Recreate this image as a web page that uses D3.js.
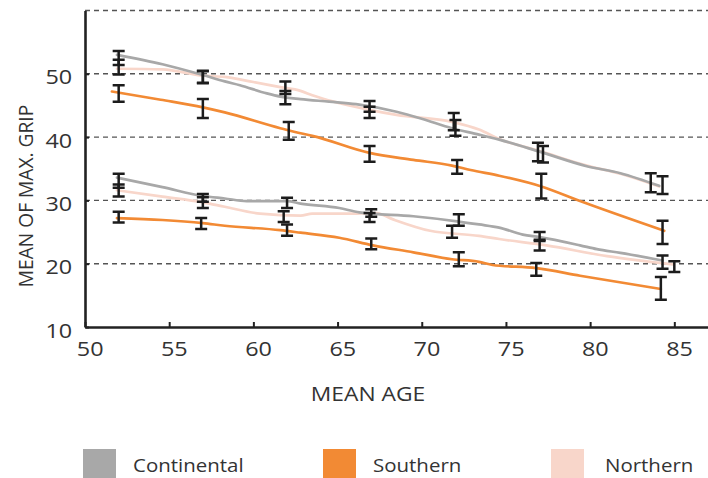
<!DOCTYPE html>
<html>
<head>
<meta charset="utf-8">
<script src="https://cdn.jsdelivr.net/npm/d3@7"></script>
<style>
  html, body { margin: 0; padding: 0; background: #fff; }
  svg { display: block; }
  text { font-family: "Open Sans", "Noto Sans", sans-serif; fill: #333; }
</style>
</head>
<body>
<svg id="chart" width="708" height="478"></svg>
<script>
// ---- data ----
const xTicks = [50, 55, 60, 65, 70, 75, 80, 85];
const yTicks = [10, 20, 30, 40, 50];
const gridValues = [20, 30, 40, 50, 60];

const legendLabels = ["Continental", "Southern", "Northern"];

// smoothed mean lines [age, grip]
const contUpperLine = [[51.9,53.0],[54.6,51.5],[57.0,49.8],[58.3,48.8],[59.2,48.2],[60.8,46.9],[61.6,46.4],[62.8,46.0],[64.5,45.6],[66.1,45.2],[68.5,44.0],[70.0,42.9],[71.8,41.4],[73.4,40.4],[74.6,39.6],[77.0,37.7],[79.8,35.4],[81.8,34.3],[84.1,32.3]];
const pinkUpperLine = [[51.9,50.8],[54.6,50.7],[57.0,49.7],[58.3,49.5],[60.0,48.7],[61.6,47.9],[62.8,47.3],[63.5,46.6],[66.9,44.3],[68.5,43.5],[71.8,42.4],[73.4,41.2],[74.6,39.7],[77.0,37.8],[79.8,35.5],[81.8,34.2],[84.1,32.2]];
const orangeUpperLine = [[51.6,47.2],[54.5,45.9],[57.0,44.7],[58.3,43.9],[61.6,41.4],[62.8,40.6],[63.5,40.2],[66.9,37.5],[69.5,36.4],[71.8,35.5],[72.9,34.8],[74.6,33.9],[77.1,32.2],[79.4,29.9],[84.4,25.2]];
const contLowerLine = [[51.9,33.6],[54.6,32.1],[57.0,30.7],[58.3,30.3],[59.6,29.9],[62.0,29.9],[62.8,29.5],[65.1,28.8],[66.3,28.1],[69.5,27.5],[72.1,26.7],[73.4,26.2],[74.6,25.7],[76.0,24.6],[77.0,24.2],[79.4,22.9],[80.4,22.3],[81.8,21.7],[84.3,20.5]];
const pinkLowerLine = [[51.9,31.6],[54.6,30.6],[57.0,29.7],[58.3,29.0],[60.4,27.9],[62.8,27.6],[63.5,27.9],[65.5,27.9],[67.3,28.0],[68.3,27.0],[70.5,25.2],[73.4,24.4],[74.6,23.9],[77.4,22.9],[81.0,21.2],[84.9,19.9]];
const orangeLowerLine = [[51.9,27.2],[54.6,26.9],[57.0,26.4],[58.3,26.0],[61.6,25.3],[62.8,24.9],[65.1,24.1],[67.1,22.9],[69.5,21.8],[71.8,20.7],[73.4,20.3],[74.2,19.8],[76.8,19.3],[79.4,18.1],[84.2,16.0]];

// error bars [age, low, high]
const contUpperBars = [[52.0,51.4,53.6],[57.0,48.5,50.5],[61.9,45.2,47.3],[66.9,44.0,45.7],[72.0,40.2,42.7],[76.9,36.2,39.1],[83.6,31.3,34.3]];
const pinkUpperBars = [[52.0,49.9,52.2],[57.0,48.6,50.4],[61.9,46.8,48.8],[66.9,43.0,44.8],[71.9,41.1,43.8],[77.2,36.0,38.6],[84.3,31.0,33.8]];
const orangeUpperBars = [[52.0,45.6,48.2],[57.0,43.0,46.0],[62.1,39.6,42.4],[66.9,36.1,38.6],[72.1,34.2,36.4],[77.1,30.3,34.2],[84.3,23.1,26.8]];
const contLowerBars = [[52.0,32.0,34.2],[57.0,29.8,31.0],[62.0,28.8,30.4],[67.0,27.4,28.6],[72.2,26.0,27.8],[77.0,23.6,25.0],[84.3,19.2,21.3]];
const pinkLowerBars = [[52.0,30.6,32.5],[57.0,28.8,30.5],[61.8,26.6,28.3],[66.9,26.6,28.0],[71.8,24.1,26.0],[77.0,22.1,23.8],[85.0,18.7,20.4]];
const orangeLowerBars = [[52.0,26.5,28.2],[56.9,25.5,27.2],[62.0,24.4,26.2],[67.0,22.3,24.0],[72.2,19.6,21.8],[76.8,18.1,20.1],[84.2,14.3,17.9]];

// ---- drawing ----
const colors = { Continental: "#a8a8a8", Southern: "#f28a34", Northern: "#f8d6ca" };
const svg = d3.select("#chart");

const x = d3.scaleLinear().domain([50, 87]).range([85, 708]);
const y = d3.scaleLinear().domain([10, 60]).range([327, 10.5]);

// grid
svg.append("g").selectAll("line").data(gridValues).join("line")
  .attr("x1", x(50)).attr("x2", x(87))
  .attr("y1", d => y(d)).attr("y2", d => y(d))
  .attr("stroke", "#555").attr("stroke-width", 1.4)
  .attr("stroke-dasharray", "5,4");

// lines
const line = d3.line().x(d => x(d[0])).y(d => y(d[1])).curve(d3.curveMonotoneX);
const lines = [
  [pinkUpperLine, colors.Northern],
  [pinkLowerLine, colors.Northern],
  [contUpperLine, colors.Continental],
  [contLowerLine, colors.Continental],
  [orangeUpperLine, colors.Southern],
  [orangeLowerLine, colors.Southern]
];
svg.append("g").selectAll("path").data(lines).join("path")
  .attr("d", d => line(d[0]))
  .attr("fill", "none")
  .attr("stroke", d => d[1])
  .attr("stroke-width", 2.7)
  .attr("stroke-linejoin", "round")
  .attr("stroke-linecap", "round");

// error bars
const allBars = [].concat(contUpperBars, pinkUpperBars, orangeUpperBars, contLowerBars, pinkLowerBars, orangeLowerBars);
const eb = svg.append("g").attr("stroke", "#1c1c1c").attr("stroke-width", 2.5).attr("fill", "none");
const capW = 6;
eb.selectAll("path").data(allBars).join("path")
  .attr("d", d => {
    const cx = x(d[0]), y0 = y(d[1]), y1 = y(d[2]);
    return `M${cx - capW},${y1}H${cx + capW}M${cx},${y1}V${y0}M${cx - capW},${y0}H${cx + capW}`;
  });

// axes
const SX = 1.17; // horizontal stretch of horizontal text seen in the reference
const xAxis = d3.axisBottom(x).tickValues(xTicks).tickSize(-5).tickSizeOuter(0).tickPadding(15);
const gx = svg.append("g").attr("transform", `translate(0,${y(10)})`).call(xAxis);
gx.select(".domain").attr("stroke", "#222").attr("stroke-width", 2.6);
gx.selectAll(".tick line").attr("stroke", "#222").attr("stroke-width", 2);
gx.selectAll(".tick text").attr("font-size", 20).attr("fill", "#333")
  .attr("x", 4).attr("transform", `scale(${SX},1)`)
  .style("font-family", '"Open Sans", sans-serif');

const yAxis = d3.axisLeft(y).tickValues(yTicks).tickSize(-4).tickSizeOuter(0).tickPadding(11);
const gy = svg.append("g").attr("transform", `translate(${x(50)},0)`).call(yAxis);
gy.select(".domain").attr("stroke", "#222").attr("stroke-width", 2.6);
gy.selectAll(".tick line").attr("stroke", "#222").attr("stroke-width", 2);
gy.selectAll(".tick text").attr("font-size", 20).attr("fill", "#333").attr("dy", "0.5em")
  .attr("transform", `scale(${SX},1)`)
  .style("font-family", '"Open Sans", sans-serif');

// axis titles
svg.append("text").attr("transform", `translate(368,393) scale(${SX},1)`)
  .attr("text-anchor", "middle").attr("dominant-baseline", "central")
  .attr("font-size", 19.5).text("MEAN AGE");
svg.append("text").attr("transform", "translate(25,196) rotate(-90)")
  .attr("text-anchor", "middle").attr("dominant-baseline", "central")
  .attr("font-size", 19.2).text("MEAN OF MAX. GRIP");

// legend
const legendX = [83, 323, 551];
const lg = svg.append("g").selectAll("g").data(legendLabels).join("g")
  .attr("transform", (d, i) => `translate(${legendX[i]},449)`);
lg.append("rect").attr("width", 33).attr("height", 30).attr("fill", d => colors[d]);
lg.append("text")
  .attr("transform", (d, i) => `translate(${i === 2 ? 54 : 50},17) scale(${SX},1)`)
  .attr("dominant-baseline", "central").attr("font-size", 17.5).text(d => d);
</script>
</body>
</html>
